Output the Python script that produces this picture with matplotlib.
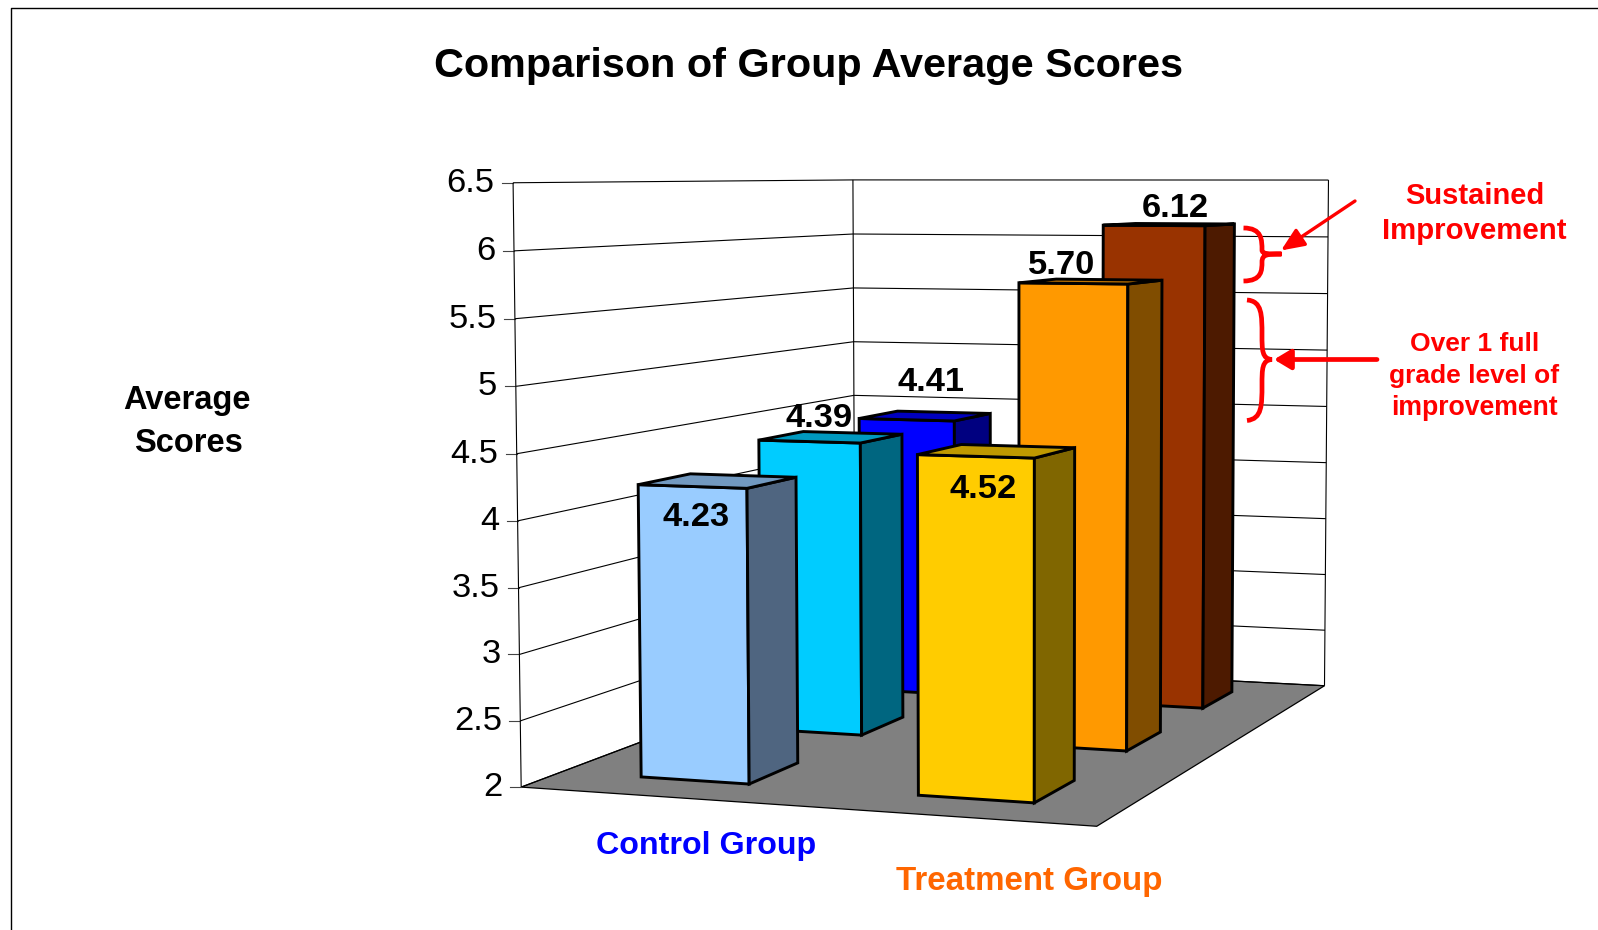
import numpy as np
import matplotlib
matplotlib.use('Agg')
import matplotlib.pyplot as plt
from matplotlib.patches import Polygon, PathPatch, FancyArrowPatch
from matplotlib.path import Path

plt.rcParams['font.family'] = ['Liberation Sans', 'DejaVu Sans']

# chart data
TITLE = 'Comparison of Group Average Scores'
GROUPS = ['Control Group', 'Treatment Group']
CONTROL = [4.23, 4.39, 4.41]
TREATMENT = [4.52, 5.70, 6.12]
TICKS = [2, 2.5, 3, 3.5, 4, 4.5, 5, 5.5, 6, 6.5]

# (front, side, top) colours per series, front row first
CONTROL_COLORS = [('#99CCFF', '#4F6580', '#7299C0'),
                  ('#00CCFF', '#006680', '#0099BF'),
                  ('#0000FF', '#000080', '#0000BF')]
TREATMENT_COLORS = [('#FFCC00', '#806600', '#BF9900'),
                    ('#FF9900', '#804D00', '#BF7300'),
                    ('#993300', '#4D1A00', '#732600')]

# bar footprints in floor units
COLUMNS = [(0.148, 0.346), (0.647, 0.847)]
ROWS = [(0.10, 0.24), (0.44, 0.58), (0.77, 0.91)]
ZMIN, ZMAX = TICKS[0], TICKS[-1]

# camera calibration: floor/wall corners against pixels
WORLD = [(0, 0, ZMIN), (0, 0, ZMAX), (0, 1, ZMIN), (0, 1, ZMAX),
         (1, 1, ZMIN), (1, 1, ZMAX), (1, 0, ZMIN)]
PIXEL = [(522, 787.4), (512.3, 182.7), (854, 661), (854, 180),
         (1325, 686), (1328, 180), (1096.7, 826)]


def fit_camera(world, pixel):
    rows = []
    for (x, y, z), (u, v) in zip(world, pixel):
        rows.append([x, y, z, 1, 0, 0, 0, 0, -u * x, -u * y, -u * z, -u])
        rows.append([0, 0, 0, 0, x, y, z, 1, -v * x, -v * y, -v * z, -v])
    return np.linalg.svd(np.array(rows, dtype=float))[2][-1].reshape(3, 4)


CAMERA = fit_camera(WORLD, PIXEL)


def project(x, y, z):
    p = CAMERA @ np.array([x, y, z, 1.0])
    return p[0] / p[2], p[1] / p[2]


def wall_line(ax, points, color='black', lw=0.8):
    xy = np.array([project(*p) for p in points])
    ax.plot(xy[:, 0], xy[:, 1], color=color, lw=lw, solid_capstyle='butt', zorder=1)


def draw_bar(ax, col, row, value, colors):
    x0, x1 = col
    y0, y1 = row
    front = [(x0, y0, ZMIN), (x1, y0, ZMIN), (x1, y0, value), (x0, y0, value)]
    side = [(x1, y0, ZMIN), (x1, y1, ZMIN), (x1, y1, value), (x1, y0, value)]
    top = [(x0, y0, value), (x1, y0, value), (x1, y1, value), (x0, y1, value)]
    for face, color in zip((front, side, top), colors):
        ax.add_patch(Polygon([project(*p) for p in face], closed=True, facecolor=color,
                             edgecolor='black', lw=2.1, joinstyle='miter', zorder=2))


fig = plt.figure(figsize=(15.98, 9.30), dpi=100)
ax = fig.add_axes([0, 0, 1, 1])
ax.set_xlim(0, 1598)
ax.set_ylim(930, 0)
ax.axis('off')

# outer frame
ax.plot([10.5, 10.5, 1598], [930, 8.5, 8.5], color='black', lw=1.0)

# floor
floor = [(0, 0, ZMIN), (1, 0, ZMIN), (1, 1, ZMIN), (0, 1, ZMIN)]
ax.add_patch(Polygon([project(*p) for p in floor], closed=True, facecolor='#808080',
                     edgecolor='black', lw=0.9, zorder=1))

# walls and ticks
for t in TICKS:
    wall_line(ax, [(0, 0, t), (0, 1, t), (1, 1, t)])
    px, py = project(0, 0, t)
    ax.plot([px - 11, px], [py, py], color='#444444', lw=0.8, zorder=1)
    ax.text(px - 18.5, py + 0.5, '%g' % t, ha='right', va='center', fontsize=24.8, color='black')
for x, y in [(0, 0), (0, 1), (1, 1)]:
    wall_line(ax, [(x, y, ZMIN), (x, y, ZMAX)])

# bars, back row first
for j in [2, 1, 0]:
    draw_bar(ax, COLUMNS[0], ROWS[j], CONTROL[j], CONTROL_COLORS[j])
    draw_bar(ax, COLUMNS[1], ROWS[j], TREATMENT[j], TREATMENT_COLORS[j])

# value labels
CONTROL_LABELS = [(696, 517.5), (819, 418.5), (931.5, 382.5)]
TREATMENT_LABELS = [(983.5, 489.5), (1062, 265.5), (1175, 208.5)]
for values, places in ((CONTROL, CONTROL_LABELS), (TREATMENT, TREATMENT_LABELS)):
    for v, (lx, ly) in zip(values, places):
        ax.text(lx, ly, '%.2f' % v, ha='center', va='center', fontsize=24.8,
                fontweight='bold', color='black', zorder=5)

ax.text(809, 66, TITLE, ha='center', va='center', fontsize=29.8, fontweight='bold')
ax.text(187, 400.5, 'Average', ha='center', va='center', fontsize=23.5, fontweight='bold')
ax.text(188, 443.5, 'Scores', ha='center', va='center', fontsize=23.5, fontweight='bold')
ax.text(706.5, 845.5, GROUPS[0], ha='center', va='center', fontsize=23.2, fontweight='bold', color='#0000FF')
ax.text(1029.5, 881.5, GROUPS[1], ha='center', va='center', fontsize=23.9, fontweight='bold', color='#FF6600')

# red notes
for text, y, size in [('Sustained', 196, 21), ('Improvement', 230.5, 21.2),
                      ('Over 1 full', 343.5, 19), ('grade level of', 376, 19),
                      ('improvement', 407.5, 19.2)]:
    ax.text(1474.5, y, text, ha='center', va='center', fontsize=size, fontweight='bold',
            color='#FF0000', zorder=6)

BRACE_SMALL = [(1243.5, 228), (1262, 228), (1262, 240), (1262, 250), (1262, 254), (1268, 254), (1281.5, 254),
               (1268, 254), (1262, 254), (1262, 262), (1262, 270), (1262, 281), (1243.5, 281)]
BRACE_LARGE = [(1247, 300), (1262, 301), (1262, 315), (1262, 335), (1262, 350), (1262, 359), (1272, 359.5),
               (1262, 360), (1262, 369), (1262, 385), (1262, 405), (1262, 419), (1247, 420.5)]
for brace in (BRACE_SMALL, BRACE_LARGE):
    codes = [Path.MOVETO] + [Path.CURVE4] * (len(brace) - 1)
    ax.add_patch(PathPatch(Path(brace, codes), facecolor='none', edgecolor='#FF0000', lw=3.4,
                           capstyle='butt', zorder=6))

ax.add_patch(FancyArrowPatch((1355, 201), (1281, 250.5), arrowstyle='-|>,head_length=0.7,head_width=0.3',
                             mutation_scale=20, color='#FF0000', lw=2.4, shrinkA=0, shrinkB=0, zorder=6))
ax.add_patch(FancyArrowPatch((1377, 359.5), (1274, 359.5), arrowstyle='-|>,head_length=0.5,head_width=0.3',
                             mutation_scale=20, color='#FF0000', lw=3.4, shrinkA=0, shrinkB=0, zorder=6))

fig.savefig('out.png', dpi=100)
